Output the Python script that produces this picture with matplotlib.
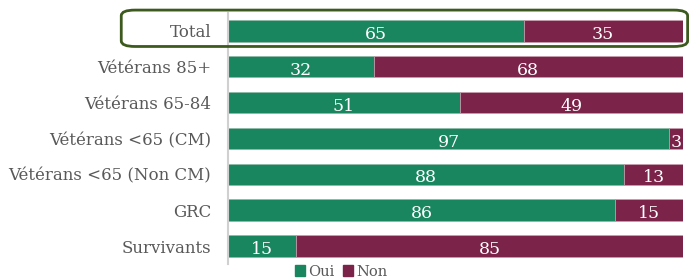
import matplotlib
matplotlib.use("Agg")
import matplotlib.pyplot as plt
from matplotlib.patches import FancyBboxPatch, Patch

# Données
categories = ["Total", "Vétérans 85+", "Vétérans 65-84", "Vétérans <65 (CM)",
              "Vétérans <65 (Non CM)", "GRC", "Survivants"]
oui = [65, 32, 51, 97, 88, 86, 15]
non = [35, 68, 49, 3, 13, 15, 85]

vert = "#1a8660"
bordeaux = "#7b2349"
gris = "#595959"

plt.rcParams['font.family'] = ['DejaVu Serif']

fig = plt.figure(figsize=(6.89, 2.8), dpi=100)
ax = fig.add_axes([0.331, 0.057, 0.66, 0.897])

# normalisation à 100 %
tot = [o + n for o, n in zip(oui, non)]
oui_p = [o / t * 100 for o, t in zip(oui, tot)]
non_p = [n / t * 100 for n, t in zip(non, tot)]

y = list(range(len(categories)))
ax.barh(y, oui_p, height=0.6, color=vert, edgecolor="#8fb8a6", linewidth=0.5)
ax.barh(y, non_p, left=oui_p, height=0.6, color=bordeaux, edgecolor="#c9a0b0", linewidth=0.5)

for i in y:
    ax.text(oui_p[i] / 2, i + 0.1, str(oui[i]), ha="center", va="center",
            color="white", fontsize=12.5)
    ax.text(oui_p[i] + non_p[i] / 2, i + 0.1, str(non[i]), ha="center", va="center",
            color="white", fontsize=12.5)

ax.set_xlim(0, 100)
ax.set_ylim(6.5, -0.5)
ax.set_yticks(y)
ax.set_yticklabels(categories, fontsize=12, color=gris)
ax.tick_params(axis="y", length=0, pad=12)
ax.set_xticks([])
for s in ["top", "right", "bottom"]:
    ax.spines[s].set_visible(False)
ax.spines["left"].set_color("#d0d0d0")
ax.spines["left"].set_linewidth(1.5)

# cadre arrondi autour de "Total"
box = FancyBboxPatch((0.176, 0.834), 0.822, 0.13, transform=fig.transFigure,
                     boxstyle="round,pad=0,rounding_size=0.02",
                     fill=False, edgecolor="#3d5a1e", linewidth=2, clip_on=False)
fig.patches.append(box)

handles = [Patch(color=vert, label="Oui"), Patch(color=bordeaux, label="Non")]
fig.legend(handles=handles, loc="center", bbox_to_anchor=(0.495, 0.03), ncol=2,
           frameon=False, fontsize=10.5, handlelength=0.7, handleheight=0.7,
           handletextpad=0.2, columnspacing=0.6, labelcolor=gris)

fig.savefig("out.png", dpi=100)
